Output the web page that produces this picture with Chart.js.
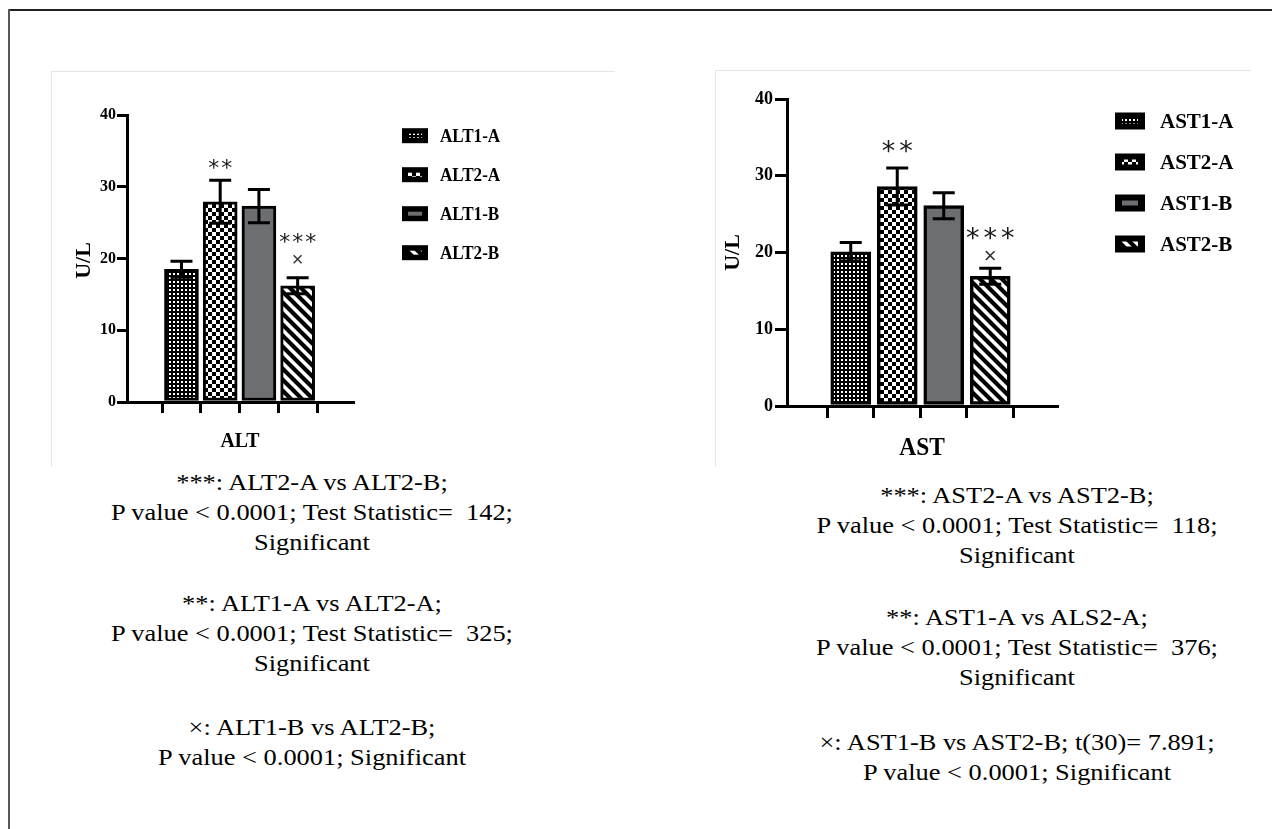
<!DOCTYPE html>
<html>
<head>
<meta charset="utf-8">
<script src="https://cdn.jsdelivr.net/npm/chart.js@4/dist/chart.umd.min.js"></script>
<style>
html,body{margin:0;padding:0;background:#fff;}
body{width:1272px;height:829px;overflow:hidden;position:relative;}
.frame-top{position:absolute;left:8px;top:9px;width:1264px;height:2px;background:#222;}
.frame-left{position:absolute;left:8px;top:9px;width:2px;height:820px;background:#555;}
.panel{position:absolute;border-top:1px solid #e4e4e4;border-left:1px solid #e4e4e4;}
canvas{position:absolute;}
.note{position:absolute;width:600px;font-family:"Liberation Serif","Times New Roman",serif;font-size:24px;line-height:30px;text-align:center;white-space:pre;color:#000;transform:scaleX(1.1);}
</style>
</head>
<body>
<div class="frame-top"></div>
<div class="frame-left"></div>
<div class="panel" style="left:51px;top:71px;width:563px;height:395px;"></div>
<div class="panel" style="left:715px;top:70px;width:535px;height:396px;"></div>
<canvas id="altChart" width="562" height="394" style="left:52px;top:72px;"></canvas>
<canvas id="astChart" width="534" height="396" style="left:716px;top:70px;"></canvas>
<div id="notesLeft"></div>
<div id="notesRight"></div>
<script>
// ---------- DATA ----------
const altLabels = ['ALT1-A', 'ALT2-A', 'ALT1-B', 'ALT2-B'];
const altMeans  = [18.5, 27.9, 27.3, 16.2];
const altErrors = [1.1, 3.0, 2.3, 1.1];

const astLabels = ['AST1-A', 'AST2-A', 'AST1-B', 'AST2-B'];
const astMeans  = [20.1, 28.6, 26.1, 16.9];
const astErrors = [1.2, 2.4, 1.7, 1.05];

const yTickValues = [0, 10, 20, 30, 40];
const sigMarksTop    = ['', '**', '', '***'];
const sigMarksBottom = ['', '', '', '\u00d7'];

const altAxisTitle = 'ALT';
const astAxisTitle = 'AST';
const unitTitle = 'U/L';

const notesLeft = [
  '***: ALT2-A vs ALT2-B;\nP value < 0.0001; Test Statistic=  142;\nSignificant',
  '**: ALT1-A vs ALT2-A;\nP value < 0.0001; Test Statistic=  325;\nSignificant',
  '\u00d7: ALT1-B vs ALT2-B;\nP value < 0.0001; Significant'
];
const notesRight = [
  '***: AST2-A vs AST2-B;\nP value < 0.0001; Test Statistic=  118;\nSignificant',
  '**: AST1-A vs ALS2-A;\nP value < 0.0001; Test Statistic=  376;\nSignificant',
  '\u00d7: AST1-B vs AST2-B; t(30)= 7.891;\nP value < 0.0001; Significant'
];

const SERIF = '"Liberation Serif", "Times New Roman", serif';

// ---------- NOTES (HTML text) ----------
function placeNotes(container, texts, centerX, tops){
  const host = document.getElementById(container);
  texts.forEach((t, i) => {
    const d = document.createElement('div');
    d.className = 'note';
    d.textContent = t;
    d.style.left = (centerX - 300) + 'px';
    d.style.top = tops[i] + 'px';
    host.appendChild(d);
  });
}
placeNotes('notesLeft', notesLeft, 312, [467, 588, 712]);
placeNotes('notesRight', notesRight, 1017, [480, 602, 727]);

// ---------- PATTERNS ----------
function makePatterns(ctx){
  function tile(size, draw){
    const c = document.createElement('canvas');
    c.width = size; c.height = size;
    const t = c.getContext('2d');
    draw(t, size);
    return ctx.createPattern(c, 'repeat');
  }
  const fine = tile(4, (t) => {
    t.fillStyle = '#000'; t.fillRect(0, 0, 4, 4);
    t.fillStyle = '#fff'; t.fillRect(1, 1, 2, 2);
  });
  const checker = tile(8, (t) => {
    t.fillStyle = '#000'; t.fillRect(0, 0, 8, 8);
    t.fillStyle = '#fff'; t.fillRect(0, 0, 4, 4); t.fillRect(4, 4, 4, 4);
  });
  const stripes = tile(11, (t, s) => {
    t.fillStyle = '#fff'; t.fillRect(0, 0, s, s);
    t.strokeStyle = '#000'; t.lineWidth = 4.2; t.lineCap = 'square';
    for (let k = -1; k <= 1; k++) {
      t.beginPath(); t.moveTo(k * s - 2, -2); t.lineTo(k * s + s + 2, s + 2); t.stroke();
    }
  });
  return [fine, checker, '#6d6e71', stripes];
}

// ---------- TEXT HELPER ----------
function drawText(ctx, str, cx, cy, font, o = {}){
  ctx.save();
  ctx.font = font;
  ctx.fillStyle = o.color || '#000';
  ctx.textAlign = o.align || 'center';
  ctx.textBaseline = 'alphabetic';
  if (o.spacing) ctx.letterSpacing = o.spacing + 'px';
  const m = ctx.measureText(str);
  const off = (m.actualBoundingBoxAscent - m.actualBoundingBoxDescent) / 2;
  ctx.translate(cx, cy);
  if (o.rotate) ctx.rotate(o.rotate);
  if (o.sx) ctx.scale(o.sx, 1);
  ctx.fillText(str, o.spacing && (o.align || 'center') === 'center' ? o.spacing / 2 : 0, off);
  ctx.restore();
}

// ---------- DECOR PLUGIN ----------
const decorPlugin = {
  id: 'decor',
  afterDatasetsDraw(chart, args, opts){
    const ctx = chart.ctx;
    const ys = chart.scales.y;
    const meta = chart.getDatasetMeta(0);
    const means = opts.means, errs = opts.errors;
    ctx.save();
    ctx.strokeStyle = '#000';
    ctx.lineWidth = opts.errWidth;
    ctx.lineCap = 'butt';
    meta.data.forEach((el, i) => {
      const x = el.x;
      const yT = ys.getPixelForValue(means[i] + errs[i]);
      const yB = ys.getPixelForValue(means[i] - errs[i]);
      const h = opts.capWidth / 2;
      ctx.beginPath();
      ctx.moveTo(x, yB); ctx.lineTo(x, yT);
      ctx.moveTo(x - h, yT); ctx.lineTo(x + h, yT);
      ctx.moveTo(x - h, yB); ctx.lineTo(x + h, yB);
      ctx.stroke();
      const top = sigMarksTop[i], bot = sigMarksBottom[i];
      if (bot) drawText(ctx, bot, x, yT - opts.bottomOffset, opts.crossFont, {color: '#333'});
      if (top) drawText(ctx, top, x, yT - (bot ? opts.stackedOffset : opts.soloOffset), opts.starFont, {color: '#1a1a1a', spacing: opts.starSpacing});
    });
    ctx.restore();
  },
  afterDraw(chart, args, opts){
    const ctx = chart.ctx;
    const ca = chart.chartArea;
    drawText(ctx, opts.xTitle, (ca.left + ca.right) / 2, ca.bottom + opts.xTitleDy, opts.xTitleFont, {sx: opts.xTitleSx});
    drawText(ctx, unitTitle, ca.left + opts.yTitleDx, (ca.top + ca.bottom) / 2 + opts.yTitleDy, opts.yTitleFont, {rotate: -Math.PI / 2});
    const L = opts.legend;
    const bg = chart.data.datasets[0].backgroundColor;
    chart.data.labels.forEach((lab, i) => {
      const cy = L.y0 + i * L.step;
      ctx.save();
      ctx.fillStyle = '#000';
      ctx.fillRect(L.x, cy - L.h / 2, L.w, L.h);
      ctx.fillStyle = bg[i];
      ctx.fillRect(L.x + L.inX, cy - L.inH / 2, L.w - 2 * L.inX, L.inH);
      ctx.restore();
      drawText(ctx, lab, L.tx, cy, L.font, {align: 'left', sx: L.sx});
    });
  }
};

// ---------- CHART FACTORY ----------
function buildChart(id, labels, means, errors, cfg){
  const canvas = document.getElementById(id);
  const ctx = canvas.getContext('2d');
  const patterns = makePatterns(ctx);
  return new Chart(ctx, {
    type: 'bar',
    data: {
      labels: labels,
      datasets: [{
        data: means.map((v, i) => ({x: i, y: v})),
        backgroundColor: patterns,
        borderColor: '#000',
        borderWidth: cfg.barBorder,
        borderSkipped: false,
        barThickness: cfg.barThickness
      }]
    },
    options: {
      responsive: false,
      animation: false,
      devicePixelRatio: 1,
      layout: {padding: cfg.padding},
      plugins: {
        legend: {display: false},
        tooltip: {enabled: false},
        title: {display: false},
        decor: cfg.decor
      },
      scales: {
        x: {
          type: 'linear',
          min: cfg.xMin, max: cfg.xMax,
          afterBuildTicks: (s) => { s.ticks = labels.map((_, i) => ({value: i})); },
          ticks: {callback: () => '', padding: 0},
          grid: {drawOnChartArea: false, tickLength: cfg.xTickLen, lineWidth: 3, color: '#000'},
          border: {display: true, width: 3, color: '#000'},
          afterFit: (s) => { s.height = cfg.xHeight; }
        },
        y: {
          min: 0, max: 40,
          afterBuildTicks: (s) => { s.ticks = yTickValues.map(v => ({value: v})); },
          ticks: {color: '#000', padding: cfg.yTickPad, font: {family: SERIF, weight: 'bold', size: cfg.yTickSize}},
          grid: {drawOnChartArea: false, tickLength: cfg.yTickLen, lineWidth: 3, color: '#000'},
          border: {display: true, width: 3, color: '#000'},
          afterFit: (s) => { s.width = 60; }
        }
      }
    },
    plugins: [decorPlugin]
  });
}

buildChart('altChart', altLabels, altMeans, altErrors, {
  padding: {left: 15, right: 261, top: 43, bottom: 0},
  xHeight: 64, xMin: -0.677, xMax: 3.70, xTickLen: 11,
  yTickLen: 10, yTickPad: 1, yTickSize: 16,
  barThickness: 34, barBorder: 3,
  decor: {
    means: altMeans, errors: altErrors, errWidth: 3, capWidth: 22,
    soloOffset: 16.5, stackedOffset: 39.5, bottomOffset: 19,
    starFont: '22px "DejaVu Sans"', starSpacing: 2, crossFont: '20px "Liberation Sans", "DejaVu Sans"',
    xTitle: altAxisTitle, xTitleFont: 'bold 22px ' + SERIF, xTitleSx: 0.9, xTitleDy: 38,
    yTitleFont: 'bold 22px ' + SERIF, yTitleDx: -44, yTitleDy: 2,
    legend: {x: 350, w: 26, h: 15, inX: 6, inH: 4, y0: 63.7, step: 39, tx: 388, font: 'bold 19px ' + SERIF, sx: 0.9}
  }
});
buildChart('astChart', astLabels, astMeans, astErrors, {
  padding: {left: 11, right: 193, top: 29, bottom: 0},
  xHeight: 60, xMin: -0.645, xMax: 3.71, xTickLen: 12,
  yTickLen: 12, yTickPad: 2, yTickSize: 18,
  barThickness: 40, barBorder: 3.5,
  decor: {
    means: astMeans, errors: astErrors, errWidth: 3, capWidth: 22,
    soloOffset: 22, stackedOffset: 35, bottomOffset: 12.6,
    starFont: '27px "DejaVu Sans"', starSpacing: 4, crossFont: '22px "Liberation Sans", "DejaVu Sans"',
    xTitle: astAxisTitle, xTitleFont: 'bold 26px ' + SERIF, xTitleSx: 0.9, xTitleDy: 40.7,
    yTitleFont: 'bold 22px ' + SERIF, yTitleDx: -55, yTitleDy: 0,
    legend: {x: 399, w: 30, h: 17, inX: 7, inH: 5, y0: 51, step: 41, tx: 444, font: 'bold 21px ' + SERIF, sx: 1}
  }
});
</script>
</body>
</html>
